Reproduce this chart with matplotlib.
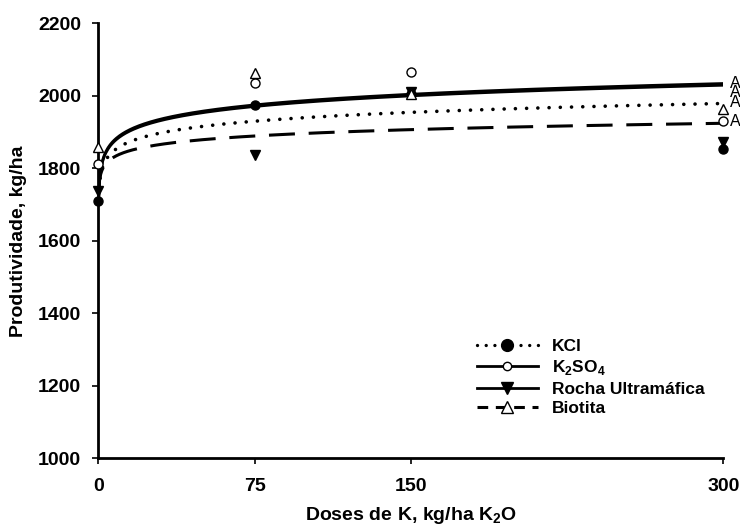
import numpy as np
import matplotlib
matplotlib.use("Agg")
import matplotlib.pyplot as plt
from matplotlib.lines import Line2D

plt.rcParams["font.family"] = ["Liberation Sans", "DejaVu Sans"]
plt.rcParams["mathtext.fontset"] = "custom"
plt.rcParams["mathtext.rm"] = "Liberation Sans"
plt.rcParams["mathtext.bf"] = "Liberation Sans:bold"

# doses (kg/ha K2O) and observed yields (kg/ha)
doses = [0, 75, 150, 300]
kcl = [1709, 1975, 2005, 1852]
k2so4 = [1812, 2036, 2067, 1931]
rocha = [1738, 1837, 2010, 1873]
biotita = [1860, 2062, 2005, 1963]

# logarithmic trend fits y = a + b*ln(x)
fit_a = {"kcl": 1777.6, "k2so4": 1791.0, "rocha": 1788.0, "biotita": 1780.0}
fit_b = {"kcl": 35.3, "k2so4": 42.6, "rocha": 42.3, "biotita": 25.3}

# significance letters at the end of the curves
letters = ["A", "A", "A", "A"]
letter_y = [2034, 2009, 1981, 1929]

fig = plt.figure(figsize=(7.4, 5.31), dpi=100)
ax = fig.add_axes([0.1328, 0.137, 0.8446, 0.819])

xs = np.linspace(0.15, 300, 600)
lw = 2.0
styles = {
    "kcl": dict(lw=2.6, linestyle=(0, (0.01, 3.1)), dash_capstyle="round"),
    "k2so4": dict(lw=lw, linestyle="-"),
    "rocha": dict(lw=lw, linestyle="-"),
    "biotita": dict(lw=2.2, linestyle=(0, (8.5, 4.5)), dash_capstyle="butt"),
}
for key in ["biotita", "kcl", "rocha", "k2so4"]:
    ys = fit_a[key] + fit_b[key] * np.log(xs)
    ax.plot(xs, ys, color="black", zorder=2, clip_on=True, **styles[key])

ax.plot(doses, kcl, "o", ms=6.5, mfc="black", mec="black", zorder=4, clip_on=False)
ax.plot(doses, k2so4, "o", ms=6.5, mfc="white", mec="black", mew=1.0, zorder=4, clip_on=False)
ax.plot(doses, rocha, "v", ms=7.5, mfc="black", mec="black", zorder=4, clip_on=False)
ax.plot(doses, biotita, "^", ms=7.5, mfc="white", mec="black", mew=1.0, zorder=4, clip_on=False)

for lab, yv in zip(letters, letter_y):
    ax.text(303, yv, lab, fontsize=11.5, ha="left", va="center", clip_on=False)

ax.set_xlim(0, 300)
ax.set_ylim(1000, 2200)
ax.set_xticks(doses)
ax.set_yticks(np.arange(1000, 2201, 200))
for sp in ["top", "right"]:
    ax.spines[sp].set_visible(False)
for sp in ["left", "bottom"]:
    ax.spines[sp].set_linewidth(2.0)
ax.tick_params(direction="out", length=4.5, width=1.2, labelsize=14)
ax.tick_params(axis="x", pad=10)
ax.tick_params(axis="y", pad=8)
for t in ax.get_xticklabels() + ax.get_yticklabels():
    t.set_fontweight("bold")

ax.set_xlabel(r"Doses de K, kg/ha K$_\mathbf{2}$O", fontsize=14, fontweight="bold", labelpad=7)
ax.set_ylabel("Produtividade, kg/ha", fontsize=14, fontweight="bold", labelpad=8)

handles = [
    Line2D([], [], color="black", lw=2.4, linestyle=(0, (0.01, 2.6)), dash_capstyle="round",
           marker="o", ms=8.5, mfc="black", mec="black"),
    Line2D([], [], color="black", lw=lw, linestyle="-",
           marker="o", ms=6, mfc="white", mec="black", mew=1.0),
    Line2D([], [], color="black", lw=lw, linestyle="-",
           marker="v", ms=8.5, mfc="black", mec="black"),
    Line2D([], [], color="black", lw=2.2, linestyle=(0, (3.5, 2.5)),
           marker="^", ms=8, mfc="white", mec="black", mew=1.0),
]
labels = ["KCl", r"K$_\mathbf{2}$SO$_\mathbf{4}$", "Rocha Ultramáfica", "Biotita"]
leg = fig.legend(handles, labels, loc="upper left", bbox_to_anchor=(0.635, 0.375),
                 frameon=False, handlelength=3.5, handletextpad=0.85,
                 labelspacing=0.25, borderaxespad=0,
                 prop={"weight": "bold", "size": 12.5})

fig.savefig("out.png", dpi=100)
